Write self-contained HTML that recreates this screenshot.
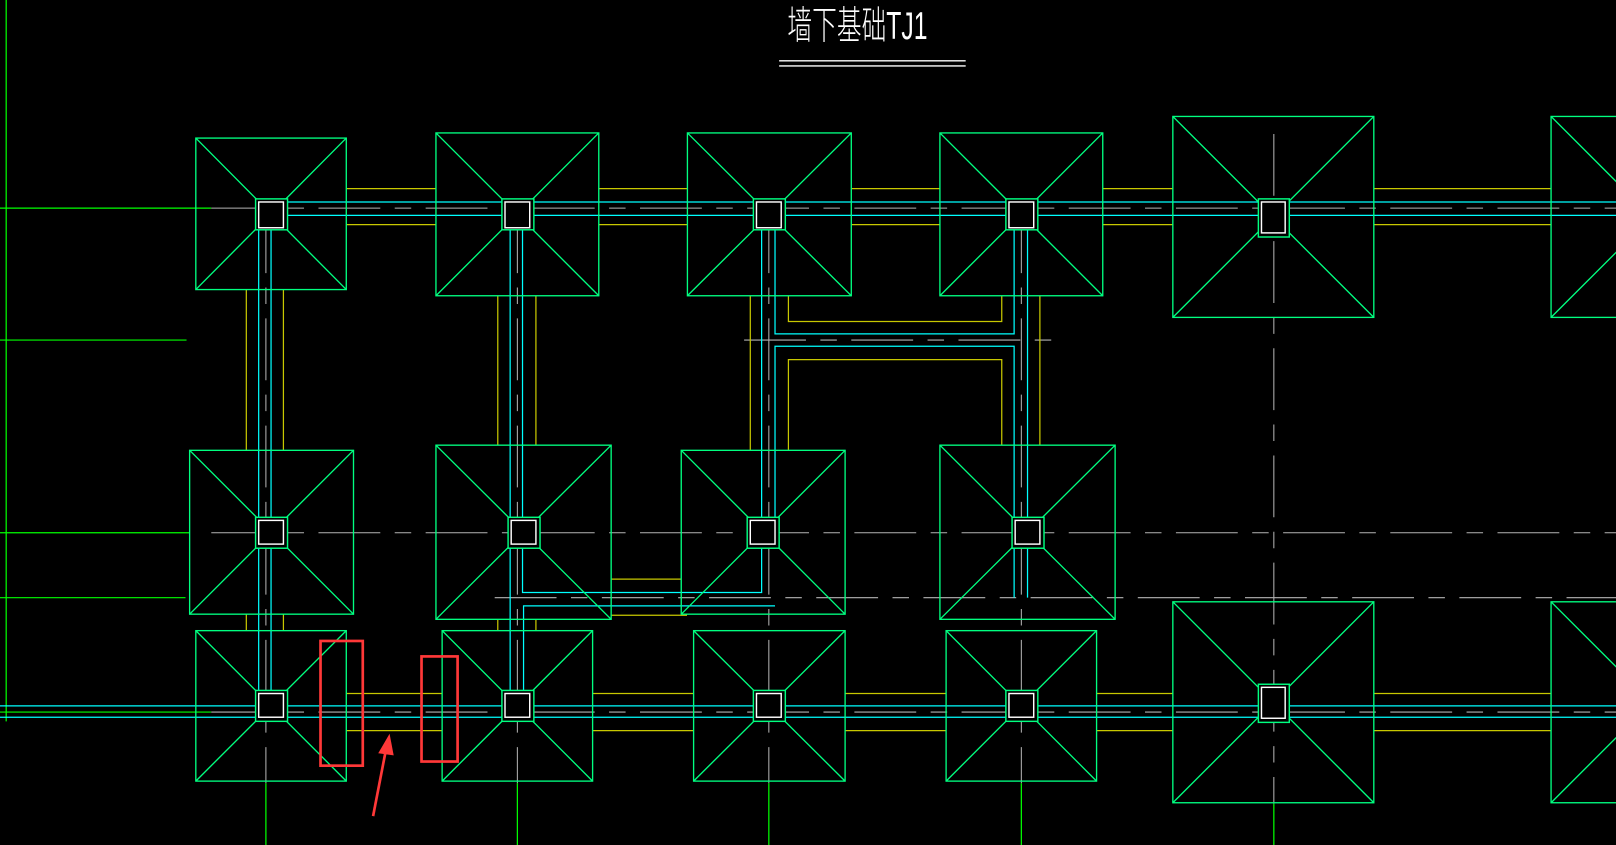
<!DOCTYPE html>
<html><head><meta charset="utf-8"><style>html,body{margin:0;padding:0;background:#000;overflow:hidden}svg{display:block}</style></head>
<body>
<svg width="1616" height="845" viewBox="0 0 1568 820" preserveAspectRatio="none" xmlns="http://www.w3.org/2000/svg">
<rect width="1568" height="820" fill="#000"/>
<!-- left axis -->
<g stroke="#00ff00" stroke-width="1.2" fill="none">
<line x1="6" y1="0" x2="6" y2="700"/>
<line x1="0" y1="202" x2="205" y2="202"/>
<line x1="0" y1="330" x2="181" y2="330"/>
<line x1="0" y1="517" x2="184" y2="517"/>
<line x1="0" y1="580" x2="180" y2="580"/>
<line x1="0" y1="691" x2="205" y2="691"/>
<line x1="258" y1="760" x2="258" y2="820"/>
<line x1="502" y1="760" x2="502" y2="820"/>
<line x1="746" y1="760" x2="746" y2="820"/>
<line x1="991" y1="760" x2="991" y2="820"/>
<line x1="1236" y1="780" x2="1236" y2="820"/>
</g>
<!-- grey centre lines -->
<g stroke="#b4b4b4" stroke-width="1" fill="none" stroke-dasharray="60,14,16,14">
<line x1="205" y1="202" x2="1568" y2="202"/>
<line x1="205" y1="517" x2="1568" y2="517"/>
<line x1="480" y1="580" x2="1568" y2="580"/>
<line x1="205" y1="691" x2="1568" y2="691"/>
<line x1="722" y1="330" x2="1026" y2="330"/>
<line x1="258" y1="205" x2="258" y2="760"/>
<line x1="502" y1="205" x2="502" y2="760"/>
<line x1="746" y1="205" x2="746" y2="760"/>
<line x1="991" y1="205" x2="991" y2="760"/>
<line x1="1236" y1="130" x2="1236" y2="780"/>
</g>
<!-- yellow walls -->
<g stroke="#c8c800" stroke-width="1.2" fill="none">
<line x1="336" y1="183" x2="423" y2="183"/><line x1="336" y1="218" x2="423" y2="218"/>
<line x1="581" y1="183" x2="667" y2="183"/><line x1="581" y1="218" x2="667" y2="218"/>
<line x1="826" y1="183" x2="912" y2="183"/><line x1="826" y1="218" x2="912" y2="218"/>
<line x1="1070" y1="183" x2="1138" y2="183"/><line x1="1070" y1="218" x2="1138" y2="218"/>
<line x1="1333" y1="183" x2="1505" y2="183"/><line x1="1333" y1="218" x2="1505" y2="218"/>
<line x1="336" y1="673" x2="429" y2="673"/><line x1="336" y1="709" x2="429" y2="709"/>
<line x1="575" y1="673" x2="673" y2="673"/><line x1="575" y1="709" x2="673" y2="709"/>
<line x1="820" y1="673" x2="918" y2="673"/><line x1="820" y1="709" x2="918" y2="709"/>
<line x1="1064" y1="673" x2="1138" y2="673"/><line x1="1064" y1="709" x2="1138" y2="709"/>
<line x1="1333" y1="673" x2="1505" y2="673"/><line x1="1333" y1="709" x2="1505" y2="709"/>
<line x1="239" y1="281" x2="239" y2="437"/><line x1="275" y1="281" x2="275" y2="437"/>
<line x1="239" y1="596" x2="239" y2="612"/><line x1="275" y1="596" x2="275" y2="612"/>
<line x1="483" y1="287" x2="483" y2="432"/><line x1="520" y1="287" x2="520" y2="432"/>
<line x1="483" y1="601" x2="483" y2="612"/><line x1="520" y1="601" x2="520" y2="612"/>
<polyline points="765,287 765,312 972,312 972,287"/>
<line x1="728" y1="287" x2="728" y2="437"/>
<polyline points="765,437 765,349 972,349 972,432"/>
<line x1="1009" y1="287" x2="1009" y2="432"/>
<line x1="593" y1="562" x2="661" y2="562"/>
<polyline points="593,597 666,597 666,596"/>
</g>
<!-- cyan beams -->
<g stroke="#00ffff" stroke-width="1.2" fill="none">
<line x1="278" y1="196" x2="1568" y2="196"/><line x1="278" y1="209" x2="1568" y2="209"/>
<line x1="251" y1="222" x2="251" y2="673"/><line x1="263" y1="222" x2="263" y2="673"/>
<line x1="495" y1="222" x2="495" y2="673"/>
<polyline points="507,222 507,575 739,575 739,530"/>
<polyline points="508,673 508,588 752,588"/>
<line x1="739" y1="222" x2="739" y2="505"/>
<polyline points="752,222 752,324 984,324 984,222"/>
<polyline points="752,505 752,336 984,336 984,580"/>
<line x1="997" y1="222" x2="997" y2="580"/>
<line x1="0" y1="685" x2="1568" y2="685"/>
<line x1="0" y1="696" x2="1568" y2="696"/>
</g>
<!-- footings -->
<g stroke="#00ff80" stroke-width="1.3" fill="none">
<!-- row1 -->
<rect x="190" y="134" width="146" height="147"/><path d="M190 134L336 281M336 134L190 281"/>
<rect x="423" y="129" width="158" height="158"/><path d="M423 129L581 287M581 129L423 287"/>
<rect x="667" y="129" width="159" height="158"/><path d="M667 129L826 287M826 129L667 287"/>
<rect x="912" y="129" width="158" height="158"/><path d="M912 129L1070 287M1070 129L912 287"/>
<rect x="1138" y="113" width="195" height="195"/><path d="M1138 113L1333 308M1333 113L1138 308"/>
<rect x="1505" y="113" width="120" height="195"/><path d="M1505 113L1600 208M1505 308L1600 213"/>
<!-- row2 -->
<rect x="184" y="437" width="159" height="159"/><path d="M184 437L343 596M343 437L184 596"/>
<rect x="423" y="432" width="170" height="169"/><path d="M423 432L593 601M593 432L423 601"/>
<rect x="661" y="437" width="159" height="159"/><path d="M661 437L820 596M820 437L661 596"/>
<rect x="912" y="432" width="170" height="169"/><path d="M912 432L1082 601M1082 432L912 601"/>
<!-- row3 -->
<rect x="190" y="612" width="146" height="146"/><path d="M190 612L336 758M336 612L190 758"/>
<rect x="429" y="612" width="146" height="146"/><path d="M429 612L575 758M575 612L429 758"/>
<rect x="673" y="612" width="147" height="146"/><path d="M673 612L820 758M820 612L673 758"/>
<rect x="918" y="612" width="146" height="146"/><path d="M918 612L1064 758M1064 612L918 758"/>
<rect x="1138" y="584" width="195" height="195"/><path d="M1138 584L1333 779M1333 584L1138 779"/>
<rect x="1505" y="584" width="120" height="195"/><path d="M1505 584L1600 679M1505 779L1600 684"/>
</g>
<!-- columns -->
<g stroke-width="1.4" fill="#000">
<g stroke="#00ff80">
<rect x="248" y="193" width="31" height="30"/><rect x="487" y="193" width="31" height="30"/>
<rect x="731" y="193" width="31" height="30"/><rect x="976" y="193" width="31" height="30"/>
<rect x="1221" y="193" width="30" height="37"/>
<rect x="248" y="502" width="31" height="30"/><rect x="493" y="502" width="31" height="30"/>
<rect x="725" y="502" width="31" height="30"/><rect x="982" y="502" width="31" height="30"/>
<rect x="248" y="670" width="31" height="30"/><rect x="487" y="670" width="31" height="30"/>
<rect x="731" y="670" width="31" height="30"/><rect x="976" y="670" width="31" height="30"/>
<rect x="1221" y="664" width="30" height="37"/>
</g>
<g stroke="#ffffff" fill="none">
<rect x="251" y="196" width="24" height="25"/><rect x="490" y="196" width="24" height="25"/>
<rect x="734" y="196" width="24" height="25"/><rect x="979" y="196" width="24" height="25"/>
<rect x="1224" y="196" width="23" height="30"/>
<rect x="251" y="505" width="24" height="23"/><rect x="496" y="505" width="24" height="23"/>
<rect x="728" y="505" width="24" height="23"/><rect x="985" y="505" width="24" height="23"/>
<rect x="251" y="673" width="24" height="23"/><rect x="490" y="673" width="24" height="23"/>
<rect x="734" y="673" width="24" height="23"/><rect x="979" y="673" width="24" height="23"/>
<rect x="1224" y="667" width="23" height="30"/>
</g>
</g>
<!-- title -->
<text x="764" y="42" font-family="'Liberation Sans','Noto Sans CJK SC',sans-serif" font-size="38" font-weight="300" fill="#fff" textLength="136" lengthAdjust="spacingAndGlyphs" transform="translate(0,-4)">墙下基础TJ1</text>
<g stroke="#fff" stroke-width="1.3"><line x1="756" y1="59" x2="937" y2="59"/><line x1="756" y1="64" x2="937" y2="64"/></g>
<!-- red annotations -->
<g stroke="#ff3838" stroke-width="2.6" fill="none">
<rect x="311" y="622" width="41" height="121"/>
<rect x="409" y="637" width="35" height="102"/>
<line x1="362" y1="792" x2="374" y2="730"/>
</g>
<polygon points="378,712 382,733 367,731" fill="#ff3838"/>
</svg>
</body></html>
